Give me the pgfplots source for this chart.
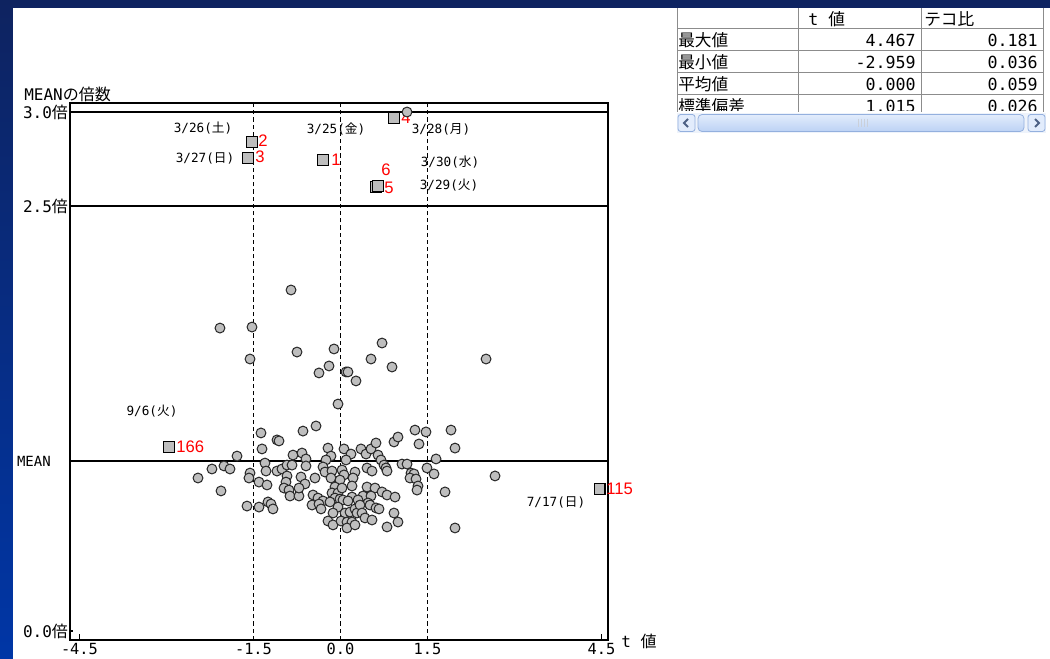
\documentclass[border=0pt]{standalone}
\usepackage{pgfplots}
\pgfplotsset{compat=1.18}
\usepackage{pgfplotstable}
\usepackage{fontspec}
\usepackage{graphicx}
\setmainfont{DejaVu Sans Mono}
\newfontfamily\jp{Noto Sans CJK JP}
\newfontfamily\sansf{Liberation Sans}
\definecolor{ptfill}{HTML}{BEBEBE}
\definecolor{ptedge}{HTML}{262626}
\definecolor{bgtop}{HTML}{0E2360}
\definecolor{bgbot}{HTML}{0036A6}
\definecolor{tabline}{HTML}{8C8C8C}
\definecolor{labred}{HTML}{FF0000}
\definecolor{sbtrack}{HTML}{EEF3FB}
\definecolor{sbedge}{HTML}{94B0DE}
\definecolor{sbtop}{HTML}{E2ECFC}
\definecolor{sbbot}{HTML}{BCD2F4}
\definecolor{sbarrow}{HTML}{4D6185}

\pgfplotstableread{
t v
-0.853 2.006
-2.078 1.782
-1.526 1.788
-1.560 1.600
-0.750 1.641
-0.112 1.659
-0.198 1.559
-0.371 1.518
0.095 1.524
0.129 1.524
0.267 1.471
0.526 1.600
0.716 1.694
0.888 1.553
2.509 1.600
-0.043 1.335
-0.422 1.206
-0.647 1.176
1.284 1.182
1.474 1.171
1.905 1.182
-1.371 1.165
-1.095 1.124
-1.060 1.118
-1.353 1.071
-1.784 1.029
-0.819 1.035
-0.664 1.047
-0.595 1.012
-0.216 1.076
-0.164 1.029
-0.250 1.006
0.060 1.071
0.181 1.041
0.095 1.006
0.353 1.071
0.440 1.041
0.526 1.071
0.612 1.106
0.922 1.112
0.991 1.141
0.647 1.035
0.698 1.006
1.353 1.100
1.974 1.076
1.647 1.012
-2.009 0.971
-2.216 0.953
-1.905 0.953
-2.457 0.900
-1.560 0.929
-1.578 0.900
-1.302 0.988
-1.284 0.941
-1.095 0.941
-1.009 0.953
-0.922 0.976
-0.836 0.976
-0.922 0.912
-0.681 0.906
-0.595 0.971
-0.302 0.965
-0.267 0.935
-0.147 0.941
0.026 0.947
0.060 0.918
0.250 0.935
0.216 0.900
-0.440 0.900
-0.164 0.900
-0.009 0.888
0.750 0.976
0.784 0.959
0.802 0.941
1.060 0.982
1.147 0.982
1.491 0.959
1.216 0.929
1.267 0.924
1.198 0.900
1.302 0.894
1.612 0.924
2.664 0.912
0.457 0.959
0.543 0.941
-1.405 0.876
-1.267 0.859
-0.940 0.876
-0.974 0.841
-0.888 0.829
-0.871 0.794
-0.716 0.794
-0.612 0.865
-0.716 0.841
-0.474 0.800
-0.388 0.782
-0.095 0.847
-0.147 0.812
-0.043 0.812
0.026 0.841
0.198 0.853
0.198 0.788
-0.095 0.782
-0.009 0.776
0.043 0.771
0.457 0.847
0.595 0.841
0.716 0.818
0.802 0.800
0.940 0.788
0.388 0.794
0.526 0.794
1.336 0.853
1.319 0.829
1.802 0.818
-2.060 0.824
-1.612 0.735
-1.405 0.729
-1.250 0.759
-1.198 0.747
-1.164 0.718
-0.302 0.765
-0.181 0.759
-0.491 0.741
-0.371 0.747
-0.336 0.718
-0.043 0.729
0.129 0.765
0.302 0.771
0.078 0.694
0.164 0.700
0.250 0.718
0.284 0.694
-0.129 0.694
-0.216 0.647
-0.129 0.624
0.009 0.647
0.112 0.641
0.198 0.641
0.112 0.606
0.250 0.624
0.474 0.753
0.509 0.741
0.336 0.741
0.612 0.724
0.664 0.718
0.371 0.694
0.422 0.665
0.543 0.653
0.922 0.694
0.991 0.641
0.802 0.612
1.974 0.606
1.147 3.053
}\circles

\pgfplotstableread{
t v
-0.302 2.771
-1.526 2.876
-1.595 2.782
0.922 3.018
0.612 2.612
0.647 2.618
-2.959 1.082
4.467 0.835
}\squares

\begin{document}
\begin{tikzpicture}
% ---------- background and table (pixel coordinates) ----------
\begin{scope}[x=0.75pt,y=-0.75pt]
  \shade[top color=bgtop,bottom color=bgbot] (0,0) rectangle (1050,659);
  \fill[white] (13,8) rectangle (1050,659);
  % table grid
  \draw[tabline,line width=0.75pt] (677,8) -- (677,112);
  \draw[tabline,line width=0.75pt] (798,8) -- (798,112);
  \draw[tabline,line width=0.75pt] (921,8) -- (921,112);
  \draw[tabline,line width=0.75pt] (1043,8) -- (1043,112);
  \foreach \yy in {29,51,73,95} {\draw[tabline,line width=0.75pt] (677,\yy) -- (1043,\yy);}
  \begin{scope}[font=\fontsize{12.5}{12.5}\selectfont]
    \node[anchor=west,inner sep=0pt] at (808,19) {t {\jp 値}};
    \node[anchor=west,inner sep=0pt] at (924,19) {\jp テコ比};
    \node[anchor=west,inner sep=0pt] at (678,40) {\jp 最大値};
    \node[anchor=west,inner sep=0pt] at (678,62) {\jp 最小値};
    \node[anchor=west,inner sep=0pt] at (678,84) {\jp 平均値};
    \node[anchor=east,inner sep=0pt] at (916,40) {4.467};
    \node[anchor=east,inner sep=0pt] at (916,62) {-2.959};
    \node[anchor=east,inner sep=0pt] at (916,84) {0.000};
    \node[anchor=east,inner sep=0pt] at (1038,40) {0.181};
    \node[anchor=east,inner sep=0pt] at (1038,62) {0.036};
    \node[anchor=east,inner sep=0pt] at (1038,84) {0.059};
    \begin{scope}
      \clip (677,96) rectangle (1043,111);
      \node[anchor=west,inner sep=0pt] at (678,106) {\jp 標準偏差};
      \node[anchor=east,inner sep=0pt] at (916,106) {1.015};
      \node[anchor=east,inner sep=0pt] at (1038,106) {0.026};
    \end{scope}
  \end{scope}
  % scrollbar
  \fill[sbtrack] (677,113) rectangle (1046,133);
  \draw[sbedge,fill=sbtop,rounded corners=2pt,line width=0.6pt] (678,114.5) rectangle (695,131.5);
  \draw[sbedge,fill=sbtop,rounded corners=2pt,line width=0.6pt] (1028,114.5) rectangle (1045,131.5);
  \draw[sbarrow,line width=1.4pt] (688,119) -- (684,123) -- (688,127);
  \draw[sbarrow,line width=1.4pt] (1035,119) -- (1039,123) -- (1035,127);
  \shade[top color=sbtop,bottom color=sbbot,rounded corners=3pt] (698,114.5) rectangle (1024,131.5);
  \draw[sbedge,rounded corners=3pt,line width=0.6pt] (698,114.5) rectangle (1024,131.5);
  \foreach \xx in {858,861,864,867} {\draw[white!70!sbarrow,line width=0.6pt] (\xx,119) -- (\xx,127);}
\end{scope}

% ---------- the chart ----------
\begin{axis}[
  at={(52.125pt,-480pt)}, anchor=south west,
  scale only axis, width=403.5pt, height=402.75pt,
  xmin=-4.672, xmax=4.603, ymin=-0.053, ymax=3.106,
  axis line style={line width=1.5pt, black},
  xtick={-4.5,-1.5,0,1.5,4.5},
  xticklabels={-4.5,-1.5,0.0,1.5,4.5},
  ytick={0,2.5,3.053},
  yticklabels={0.0{\jp 倍},2.5{\jp 倍},3.0{\jp 倍}},
  tick style={draw=none},
  xticklabel style={font=\fontsize{11.5}{11.5}\selectfont, inner sep=1.5pt, yshift=-1pt},
  yticklabel style={font=\fontsize{12}{12}\selectfont, inner sep=1pt},
  clip=false,
]
  \draw[black, line width=1.5pt] (axis cs:-4.672,1) -- (axis cs:4.603,1);
  \draw[black, line width=1.5pt] (axis cs:-4.672,2.5) -- (axis cs:4.603,2.5);
  \draw[black, line width=1.5pt] (axis cs:-4.672,3.053) -- (axis cs:4.603,3.053);
  \foreach \xv in {-1.5,0,1.5} {
    \edef\tmp{\noexpand\draw[black, line width=1pt, dash pattern=on 3.2pt off 2.2pt] (axis cs:\xv,-0.053) -- (axis cs:\xv,3.106);}
    \tmp
  }
  % small ticks at the corner values
  \draw[black, line width=0.8pt] (axis cs:-4.5,-0.053) -- (axis cs:-4.5,-0.02);
  \draw[black, line width=0.8pt] (axis cs:4.5,-0.053) -- (axis cs:4.5,-0.02);
  \draw[black, line width=0.8pt] (axis cs:-4.672,0) -- (axis cs:-4.62,0);
  \addplot[only marks, mark=*, mark size=3.7pt,
    mark options={fill=ptfill, draw=ptedge, line width=0.75pt}] table {\circles};
  \addplot[only marks, mark=square*, mark size=4pt,
    mark options={fill=ptfill, draw=black, line width=0.9pt}] table {\squares};
  % red case numbers
  \begin{scope}[every node/.style={text=labred, anchor=west, inner sep=0pt, font=\sansf\fontsize{12.5}{12.5}\selectfont}]
    \node at (axis cs:-0.164,2.771) {1};
    \node at (axis cs:-1.422,2.882) {2};
    \node at (axis cs:-1.474,2.788) {3};
    \node at (axis cs:1.043,3.018) {4};
    \node at (axis cs:0.750,2.606) {5};
    \node at (axis cs:0.698,2.712) {6};
    \node at (axis cs:-2.836,1.082) {166};
    \node at (axis cs:4.578,0.835) {115};
  \end{scope}
  % date labels
  \begin{scope}[every node/.style={inner sep=0pt, font=\fontsize{9.5}{9.5}\selectfont}]
    \node at (axis cs:-2.371,2.959) {3/26({\jp 土})};
    \node at (axis cs:-2.336,2.782) {3/27({\jp 日})};
    \node at (axis cs:-0.078,2.953) {3/25({\jp 金})};
    \node at (axis cs:1.733,2.953) {3/28({\jp 月})};
    \node at (axis cs:1.888,2.759) {3/30({\jp 水})};
    \node at (axis cs:1.871,2.624) {3/29({\jp 火})};
    \node at (axis cs:-3.250,1.294) {9/6({\jp 火})};
    \node at (axis cs:3.716,0.759) {7/17({\jp 日})};
  \end{scope}
\end{axis}

% ---------- labels outside the axis ----------
\begin{scope}[x=0.75pt,y=-0.75pt]
  \node[anchor=west,inner sep=0pt,font=\fontsize{12}{12}\selectfont] at (24,94) {MEAN{\jp の倍数}};
  \node[anchor=east,inner sep=0pt,font=\fontsize{10.5}{10.5}\selectfont] at (51,461) {MEAN};
  \node[anchor=west,inner sep=0pt,font=\fontsize{12}{12}\selectfont] at (621,641) {t {\jp 値}};
\end{scope}
\pgfresetboundingbox
\path[use as bounding box] (0pt,0pt) rectangle (787.5pt,-494.25pt);
\end{tikzpicture}
\end{document}
